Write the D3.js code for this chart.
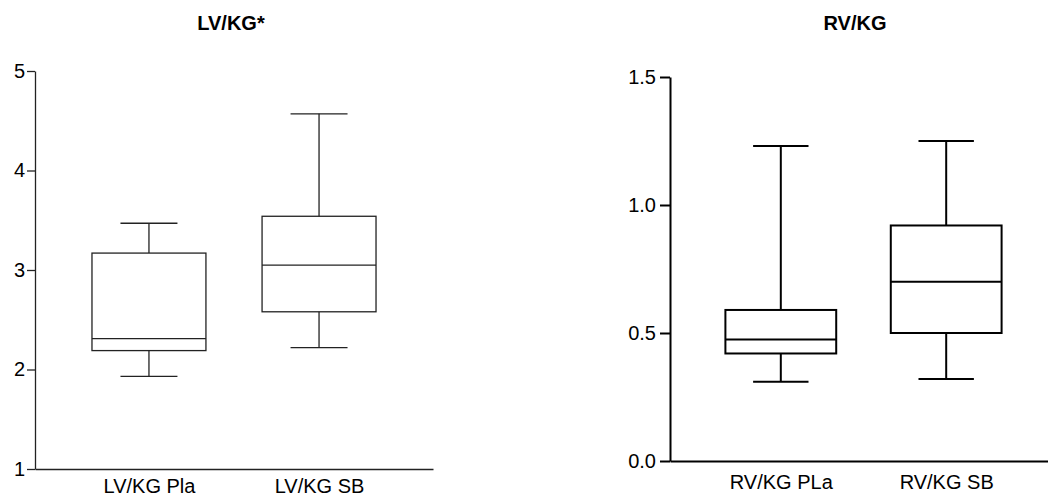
<!DOCTYPE html>
<html>
<head>
<meta charset="utf-8">
<script src="https://cdn.jsdelivr.net/npm/d3@7"></script>
<style>
    body { margin: 0; background: #fff; }
    svg { display: block; font-family: "Liberation Sans", Arial, sans-serif; }
</style>
</head>
<body>
<svg id="chart" width="1048" height="501"></svg>
<script>
// box plot summaries
const lvGroups = ["LV/KG Pla", "LV/KG SB"];
const lvMin = [1.93, 2.22];
const lvQ1 = [2.19, 2.58];
const lvMedian = [2.31, 3.05];
const lvQ3 = [3.17, 3.54];
const lvMax = [3.47, 4.57];
const lvTicks = [1, 2, 3, 4, 5];

const rvGroups = ["RV/KG PLa", "RV/KG SB"];
const rvMin = [0.31, 0.32];
const rvQ1 = [0.42, 0.50];
const rvMedian = [0.475, 0.70];
const rvQ3 = [0.59, 0.92];
const rvMax = [1.23, 1.25];
const rvTicks = [0, 0.5, 1.0, 1.5];

const svg = d3.select("#chart");

function drawPanel(cfg) {
    const g = svg.append("g");

    const x = d3.scalePoint()
        .domain(cfg.groups)
        .range([cfg.left, cfg.right])
        .padding(0.67);

    const y = d3.scaleLinear()
        .domain(cfg.domain)
        .range([cfg.bottom, cfg.top]);

    const boxW = x.step() * 0.67;
    const capW = boxW / 2;

    // y axis
    const yAxis = g.append("g")
        .attr("transform", `translate(${cfg.left},0)`)
        .call(d3.axisLeft(y)
            .tickValues(cfg.ticks)
            .tickFormat(cfg.fmt)
            .tickSize(cfg.tickLen)
            .tickSizeOuter(0)
            .tickPadding(cfg.tickPad));
    yAxis.selectAll("path, line")
        .attr("stroke", cfg.stroke)
        .attr("stroke-width", cfg.sw);
    yAxis.selectAll("text")
        .attr("font-size", 20)
        .attr("fill", "#000");

    // x axis
    const xAxis = g.append("g")
        .attr("transform", `translate(0,${cfg.bottom})`)
        .call(d3.axisBottom(x).tickSize(0).tickSizeOuter(0).tickPadding(cfg.labelPad));
    xAxis.select(".domain")
        .attr("stroke", cfg.stroke)
        .attr("stroke-width", cfg.sw);
    xAxis.selectAll("text")
        .attr("font-size", 20)
        .attr("fill", "#000");

    const rows = cfg.groups.map((name, i) => ({
        name: name,
        min: cfg.min[i], q1: cfg.q1[i], med: cfg.med[i], q3: cfg.q3[i], max: cfg.max[i]
    }));

    const box = g.append("g")
        .selectAll("g")
        .data(rows)
        .join("g")
        .attr("stroke", cfg.stroke)
        .attr("stroke-width", cfg.sw)
        .attr("fill", "none");

    // whiskers
    box.append("line")
        .attr("x1", d => x(d.name)).attr("x2", d => x(d.name))
        .attr("y1", d => y(d.q3)).attr("y2", d => y(d.max));
    box.append("line")
        .attr("x1", d => x(d.name)).attr("x2", d => x(d.name))
        .attr("y1", d => y(d.q1)).attr("y2", d => y(d.min));
    box.append("line")
        .attr("x1", d => x(d.name) - capW / 2).attr("x2", d => x(d.name) + capW / 2)
        .attr("y1", d => y(d.max)).attr("y2", d => y(d.max));
    box.append("line")
        .attr("x1", d => x(d.name) - capW / 2).attr("x2", d => x(d.name) + capW / 2)
        .attr("y1", d => y(d.min)).attr("y2", d => y(d.min));

    box.append("rect")
        .attr("x", d => x(d.name) - boxW / 2)
        .attr("width", boxW)
        .attr("y", d => y(d.q3))
        .attr("height", d => y(d.q1) - y(d.q3));

    box.append("line")
        .attr("x1", d => x(d.name) - boxW / 2).attr("x2", d => x(d.name) + boxW / 2)
        .attr("y1", d => y(d.med)).attr("y2", d => y(d.med));

    g.append("text")
        .attr("x", cfg.titleX)
        .attr("y", 30)
        .attr("text-anchor", "middle")
        .attr("font-size", 20)
        .attr("font-weight", "bold")
        .text(cfg.title);
}

drawPanel({
    groups: lvGroups, min: lvMin, q1: lvQ1, med: lvMedian, q3: lvQ3, max: lvMax,
    ticks: lvTicks, fmt: d3.format("d"), domain: [1, 5],
    left: 35, right: 433, top: 71, bottom: 469,
    tickLen: 8, tickPad: 2, labelPad: 10,
    stroke: "#222", sw: 1.3,
    title: "LV/KG*", titleX: 231
});

drawPanel({
    groups: rvGroups, min: rvMin, q1: rvQ1, med: rvMedian, q3: rvQ3, max: rvMax,
    ticks: rvTicks, fmt: d3.format(".1f"), domain: [0, 1.5],
    left: 670, right: 1057, top: 77, bottom: 461,
    tickLen: 10, tickPad: 4, labelPad: 14,
    stroke: "#000", sw: 2,
    title: "RV/KG", titleX: 855
});
</script>
</body>
</html>
